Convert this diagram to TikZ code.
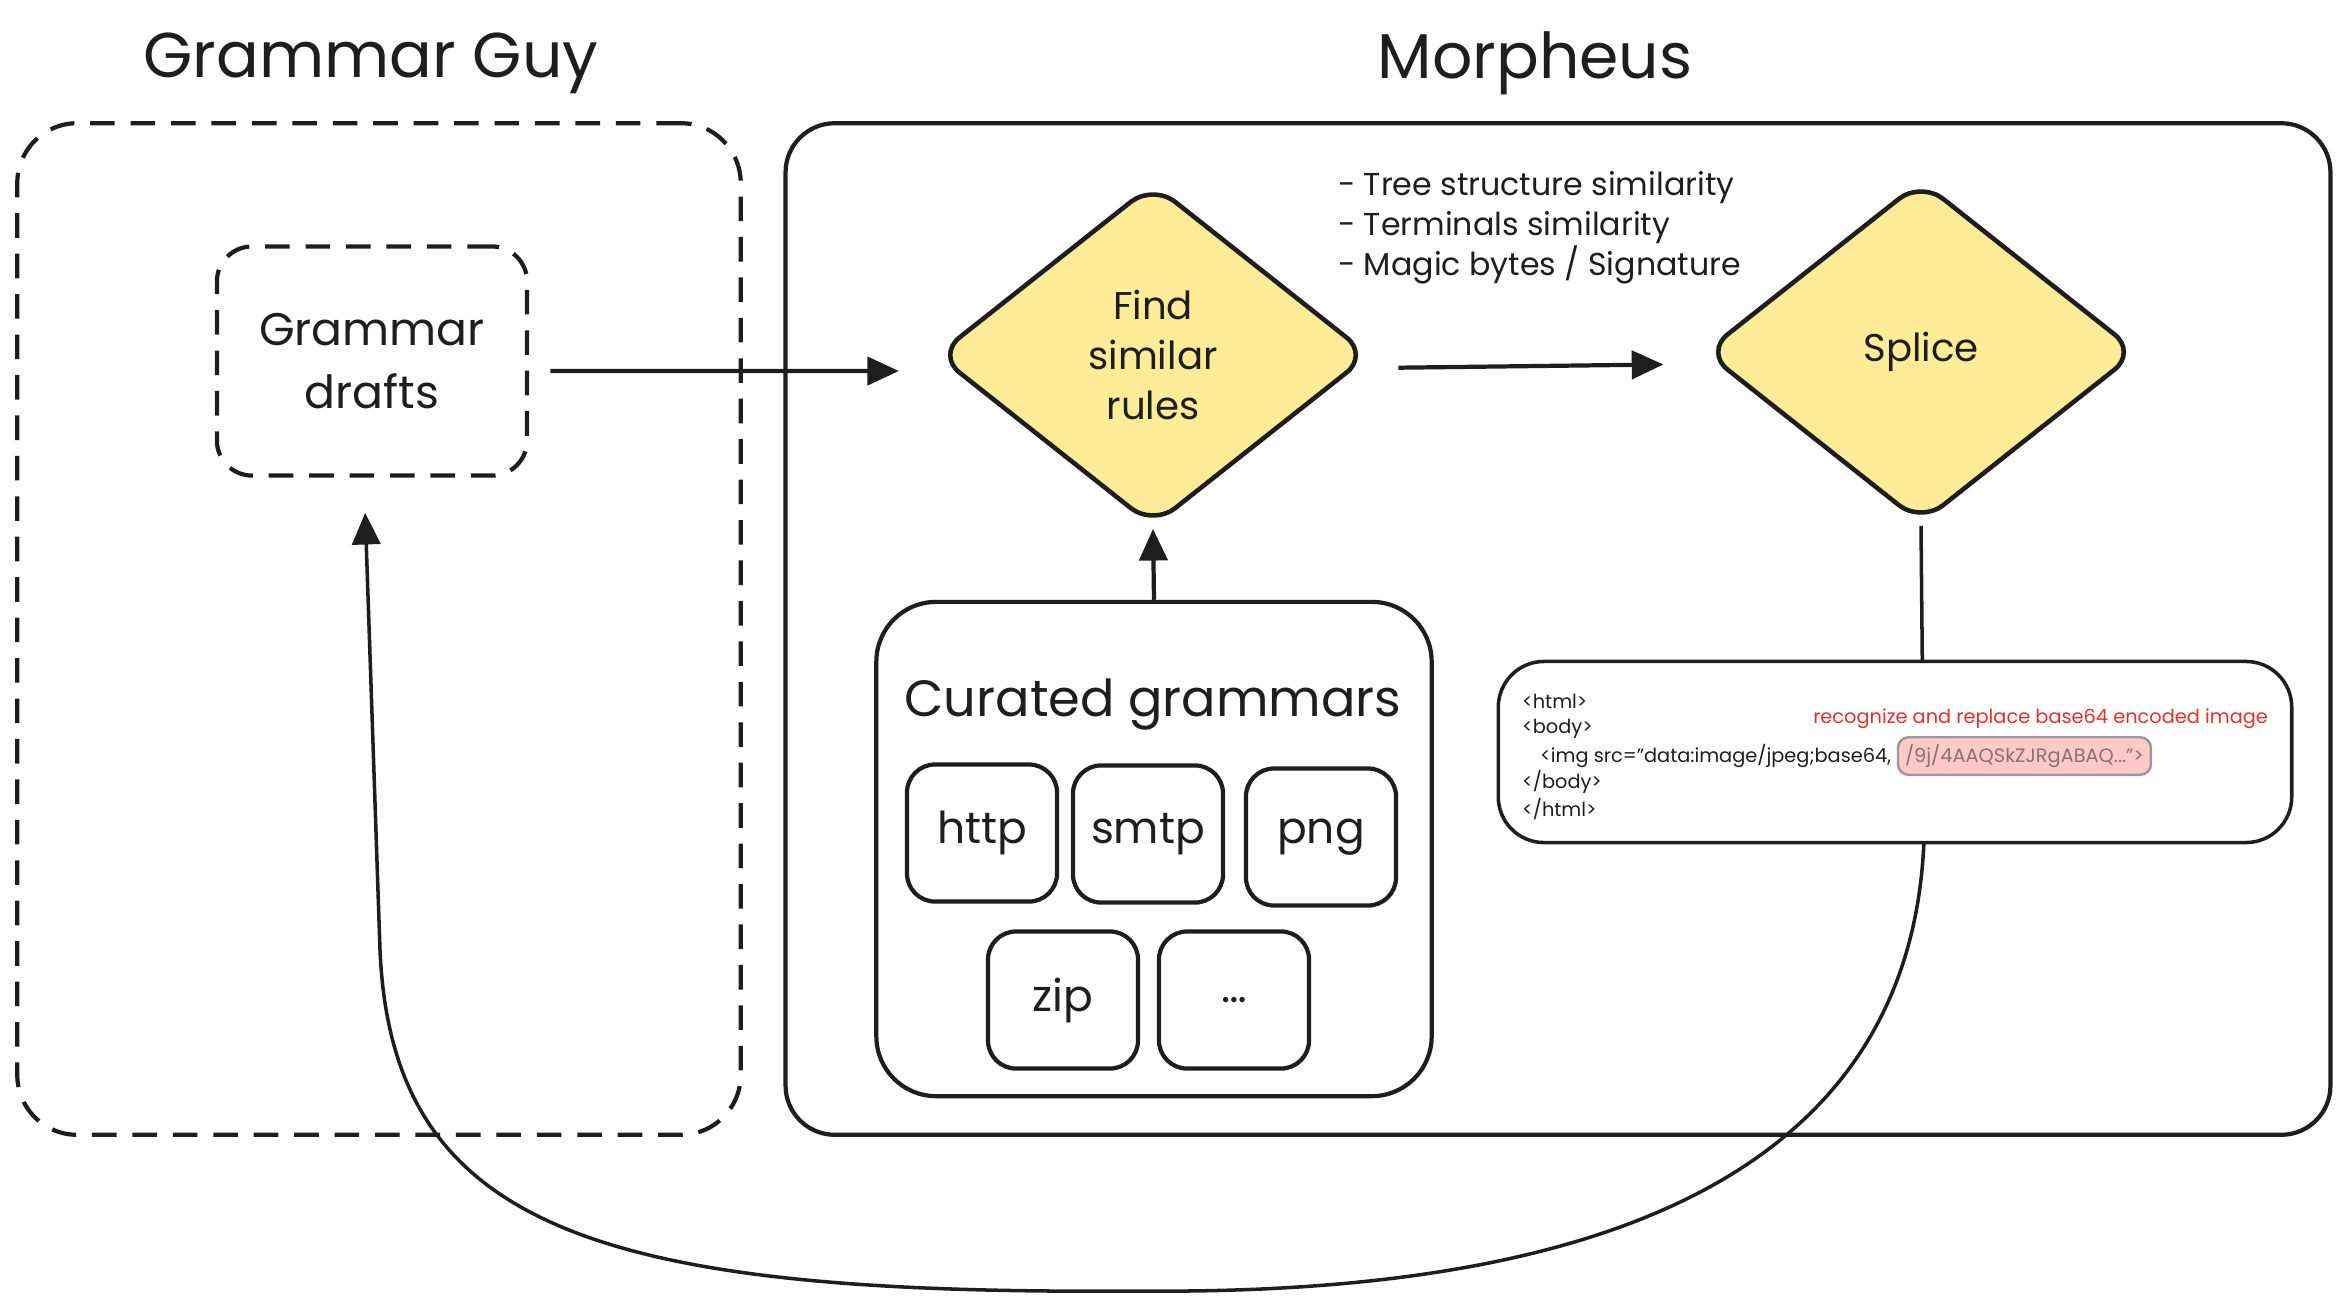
\documentclass[tikz,border=0pt]{standalone}
\usepackage{fontspec}
\setmainfont{Poppins}
\usepackage{tikz}
\usetikzlibrary{positioning, shapes.geometric, arrows.meta}

\definecolor{ink}{HTML}{1E1E1E}
\definecolor{sunny}{HTML}{FFEC99}
\definecolor{alert}{HTML}{E03131}
\definecolor{blush}{HTML}{FFC9C9}
\definecolor{dim}{HTML}{8A7070}

\begin{document}
\begin{tikzpicture}[x=0.01cm, y=-0.01cm, color=ink, line width=1.2pt,
    title/.style={font=\fontsize{18}{22}\selectfont},
    frame/.style={draw, rounded corners=#1, inner sep=0pt},
    frame/.default=14pt,
    dashframe/.style={frame=#1, dash pattern=on 7pt off 4.5pt},
    decision/.style={diamond, draw, fill=sunny, line width=1.3pt, rounded corners=8pt,
      inner sep=0pt, minimum width=4.33cm, minimum height=3.43cm, align=center,
      font=\fontsize{11}{14.2}\selectfont},
    gram/.style={frame=8pt, minimum width=1.5cm, minimum height=1.37cm,
      font=\fontsize{12.5}{15}\selectfont},
    code/.style={anchor=west, inner sep=0pt, font=\fontsize{5.5}{7}\selectfont},
    flow/.style={-{Triangle[length=9pt,width=8pt]}, line width=1.2pt}]
    \useasboundingbox (0,0) rectangle (2348,1314);

    % Titles
    \node (ggtitle) [title] at (371,63) {Grammar Guy};
    \node (mtitle) [title] at (1535,63) {Morpheus};

    % Grammar Guy
    \node (gguy) [dashframe=17pt, minimum width=7.23cm, minimum height=10.11cm] at (379,629) {};
    \node (drafts) [dashframe=10pt, minimum width=3.1cm, minimum height=2.29cm, align=center,
      font=\fontsize{13}{18}\selectfont] at (372,361) {Grammar\\drafts};

    % Morpheus
    \node (morpheus) [frame, minimum width=15.44cm, minimum height=10.11cm] at (1558,629) {};
    \node (find) [decision] at (1153,355) {Find\\similar\\rules};
    \node (splice) [decision] at (1921,352) {Splice};
    \node (notes) [anchor=west, align=left, inner sep=0pt, font=\fontsize{9}{11.4}\selectfont] at (1336,228)
      {- Tree structure similarity\\- Terminals similarity\\- Magic bytes / Signature};

    % Curated grammars
    \node (curated) [frame=17pt, minimum width=5.55cm, minimum height=4.94cm] at (1154,849) {};
    \node (curtitle) [font=\fontsize{14.5}{18}\selectfont] at (1153,704) {Curated grammars};
    \foreach \n/\x/\y/\t in {http/982/833/http, smtp/1148/834/smtp, png/1321/837/png,
      zip/1063/1000/zip, more/1234/1000/\ldots}
      \node (\n) [gram] at (\x,\y) {\t};

    % Arrows
    \draw[flow, shorten <=6pt, shorten >=10pt] ([yshift=-0.1cm]drafts.east) -- ([yshift=-0.16cm]find.west);
    \draw[flow, shorten <=7.5pt, shorten >=11pt] ([yshift=-0.13cm]find.east) -- ([yshift=-0.12cm]splice.west);
    \draw[flow] (curated.north) -- (find.south);

    % Feedback loop
    \draw[flow, line width=1pt, shorten >=10pt] (splice.south) -- (1924,840)
      .. controls (1910,1200) and (1550,1295) .. (1138,1291)
      .. controls (600,1295) and (392,1230) .. (380,950) -- ([xshift=-0.08cm]drafts.south);

    % Example html
    \node (html) [frame=13pt, fill=white, line width=1pt, minimum width=7.93cm, minimum height=1.81cm] at (1895,752) {};
    \foreach \y/\t in {701/{<html>}, 729/{<body>}, 782/{</body>}, 809/{</html>}}
      \node (l\y) [code] at (1520,\y) {\t};
    \node (imgline) [code] at (1538,756) {<img src="data:image/jpeg;base64,};
    \node (b64) [right=1pt of imgline, draw=gray!80, fill=blush, line width=0.7pt, rounded corners=3pt,
      inner sep=2pt, text=dim, font=\fontsize{5.5}{7}\selectfont] {/9j/4AAQSkZJRgABAQ...">};
    \node (hint) [anchor=east, inner sep=0pt, text=alert, font=\fontsize{5.5}{7}\selectfont] at (2270,719)
      {recognize and replace base64 encoded image};

\end{tikzpicture}
\end{document}
